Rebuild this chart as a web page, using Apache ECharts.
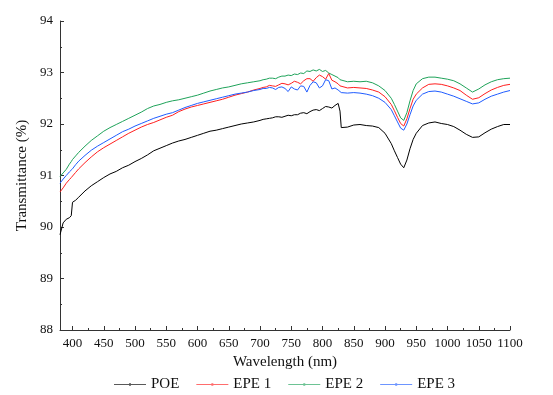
<!DOCTYPE html>
<html><head><meta charset="utf-8">
<script src="https://cdn.jsdelivr.net/npm/echarts@6/dist/echarts.min.js"></script>
<style>html,body{margin:0;padding:0;background:#fff}#c{width:553px;height:395px}</style>
</head><body><div id="c"></div>
<script>
var wavelengths = [380,385,390,395,398,400,405,410,420,430,440,450,460,470,480,490,500,510,520,530,540,550,560,570,580,590,600,610,620,630,640,650,660,670,680,690,700,705,710,715,720,725,730,735,740,745,750,755,760,765,770,775,780,785,790,795,800,805,810,815,820,825,828,830,840,850,860,870,880,890,900,910,915,920,925,930,935,940,945,950,960,970,980,990,1000,1010,1020,1030,1040,1050,1060,1070,1080,1090,1100];
var poe = [89.85,90.08,90.15,90.18,90.22,90.48,90.52,90.58,90.70,90.80,90.88,90.96,91.03,91.08,91.15,91.20,91.27,91.33,91.40,91.48,91.53,91.58,91.63,91.67,91.70,91.74,91.78,91.82,91.86,91.88,91.91,91.94,91.97,92.00,92.02,92.04,
  92.07,92.09,92.10,92.11,92.12,92.14,92.14,92.13,92.15,92.17,92.16,92.18,92.18,92.21,92.22,92.20,92.24,92.27,92.28,92.26,92.30,92.34,92.33,92.31,92.36,92.40,92.25,91.93,
  91.94,91.98,91.99,91.97,91.96,91.93,91.82,91.62,91.48,91.35,91.22,91.15,91.30,91.52,91.70,91.82,91.97,92.02,92.04,92.01,91.99,91.95,91.88,91.80,91.74,91.75,91.83,91.90,91.95,91.99,91.99];
var epe1 = [90.68,90.76,90.85,90.92,90.96,90.99,91.06,91.13,91.25,91.36,91.46,91.54,91.61,91.68,91.75,91.82,91.88,91.94,91.99,92.03,92.08,92.13,92.17,92.24,92.29,92.33,92.36,92.39,92.42,92.45,92.48,92.52,92.56,92.59,92.62,92.66,
  92.69,92.71,92.72,92.75,92.74,92.73,92.76,92.79,92.78,92.76,92.79,92.83,92.81,92.78,92.84,92.88,92.88,92.83,92.90,92.95,92.92,92.87,92.98,92.85,92.82,92.78,92.74,92.71,
  92.70,92.71,92.70,92.69,92.66,92.62,92.53,92.38,92.26,92.13,92.01,91.96,92.10,92.30,92.48,92.58,92.70,92.77,92.78,92.77,92.74,92.70,92.65,92.56,92.48,92.51,92.59,92.66,92.71,92.75,92.77];
var epe2 = [90.98,91.05,91.12,91.22,91.27,91.31,91.38,91.45,91.57,91.68,91.77,91.86,91.93,91.99,92.05,92.11,92.17,92.23,92.30,92.35,92.38,92.42,92.45,92.47,92.50,92.53,92.56,92.60,92.64,92.67,92.70,92.72,92.75,92.78,92.80,92.82,
  92.84,92.86,92.87,92.89,92.89,92.88,92.91,92.93,92.93,92.95,92.94,92.97,92.96,92.99,92.98,93.03,93.02,93.05,93.03,93.06,93.02,93.04,92.99,92.96,92.93,92.90,92.86,92.83,
  92.82,92.83,92.82,92.83,92.80,92.74,92.65,92.50,92.38,92.25,92.12,92.07,92.22,92.45,92.65,92.78,92.88,92.91,92.91,92.89,92.87,92.84,92.78,92.70,92.62,92.68,92.76,92.82,92.86,92.88,92.89];
var epe3 = [90.85,90.93,91.00,91.07,91.10,91.13,91.21,91.28,91.39,91.49,91.57,91.64,91.71,91.78,91.85,91.90,91.96,92.01,92.06,92.11,92.15,92.19,92.22,92.27,92.32,92.36,92.40,92.43,92.46,92.49,92.52,92.55,92.58,92.60,92.62,92.65,
  92.67,92.69,92.69,92.71,92.70,92.67,92.71,92.72,92.69,92.63,92.72,92.68,92.66,92.74,92.73,92.62,92.75,92.82,92.80,92.70,92.74,92.86,92.84,92.68,92.70,92.66,92.63,92.61,
  92.60,92.61,92.60,92.58,92.55,92.50,92.42,92.28,92.16,92.04,91.92,91.88,92.00,92.18,92.35,92.46,92.58,92.63,92.64,92.62,92.58,92.54,92.49,92.44,92.39,92.41,92.48,92.54,92.58,92.62,92.65];
var seriesNames = ['POE','EPE 1','EPE 2','EPE 3'];
var seriesColors = ['#000000','#ff1f1f','#1fa35a','#1f5cff'];
var xMajor = [400,450,500,550,600,650,700,750,800,850,900,950,1000,1050,1100];
var xMinor = [425,475,525,575,625,675,725,775,825,875,925,975,1025,1075];
var yMinor = [88.5,89.5,90.5,91.5,92.5,93.5];

function pairs(v){ return wavelengths.map(function(w,i){ return [w, v[i]]; }); }
var allData = [poe, epe1, epe2, epe3];
var font = 'Liberation Serif';
var legendIcon = 'path://M0,3.5L32,3.5L32,4.5L0,4.5Z M15,2.8L17,2.8L17,5.2L15,5.2Z';
var chart = echarts.init(document.getElementById('c'), null, {renderer:'canvas'});
chart.setOption({
  animation:false,
  backgroundColor:'#fff',
  grid:{left:60, right:43, top:21, bottom:65},
  legend:{
    data:seriesNames.map(function(n){ return {name:n, icon:legendIcon}; }),
    left:109, top:372, itemWidth:32, itemHeight:8, itemGap:17,
    itemStyle:{opacity:0.65},
    textStyle:{fontFamily:font, fontSize:15, color:'#111'}
  },
  xAxis:[{
    type:'value', min:380, max:1100,
    name:'Wavelength (nm)', nameLocation:'middle', nameGap:25,
    nameTextStyle:{fontFamily:font, fontSize:15, color:'#111'},
    axisLine:{lineStyle:{color:'#333', width:1}},
    axisTick:{inside:true, length:4, customValues:xMajor, lineStyle:{color:'#333'}},
    axisLabel:{customValues:xMajor, fontFamily:font, fontSize:13, color:'#111', margin:7,
      formatter:function(v){ return String(v); }},
    splitLine:{show:false}
  },{
    type:'value', min:380, max:1100, position:'bottom',
    axisLine:{show:false},
    axisTick:{inside:true, length:2, customValues:xMinor, lineStyle:{color:'#333'}},
    axisLabel:{show:false, customValues:xMinor},
    splitLine:{show:false}
  }],
  yAxis:[{
    type:'value', min:88, max:94, interval:1,
    name:'Transmittance (%)', nameLocation:'middle', nameGap:25,
    nameTextStyle:{fontFamily:font, fontSize:15, color:'#111'},
    axisLine:{show:true, lineStyle:{color:'#333', width:1}},
    axisTick:{inside:true, length:4, lineStyle:{color:'#333'}},
    axisLabel:{fontFamily:font, fontSize:13, color:'#111', margin:7},
    splitLine:{show:false}
  },{
    type:'value', min:88, max:94, position:'left',
    axisLine:{show:false},
    axisTick:{inside:true, length:2, customValues:yMinor, lineStyle:{color:'#333'}},
    axisLabel:{show:false, customValues:yMinor},
    splitLine:{show:false}
  }],
  series: seriesNames.map(function(n,i){
    return {name:n, type:'line', xAxisIndex:0, yAxisIndex:0, data:pairs(allData[i]), showSymbol:false,
      symbol:'circle', symbolSize:2, color:seriesColors[i],
      lineStyle:{width:1, color:seriesColors[i]}};
  })
});
</script></body></html>
